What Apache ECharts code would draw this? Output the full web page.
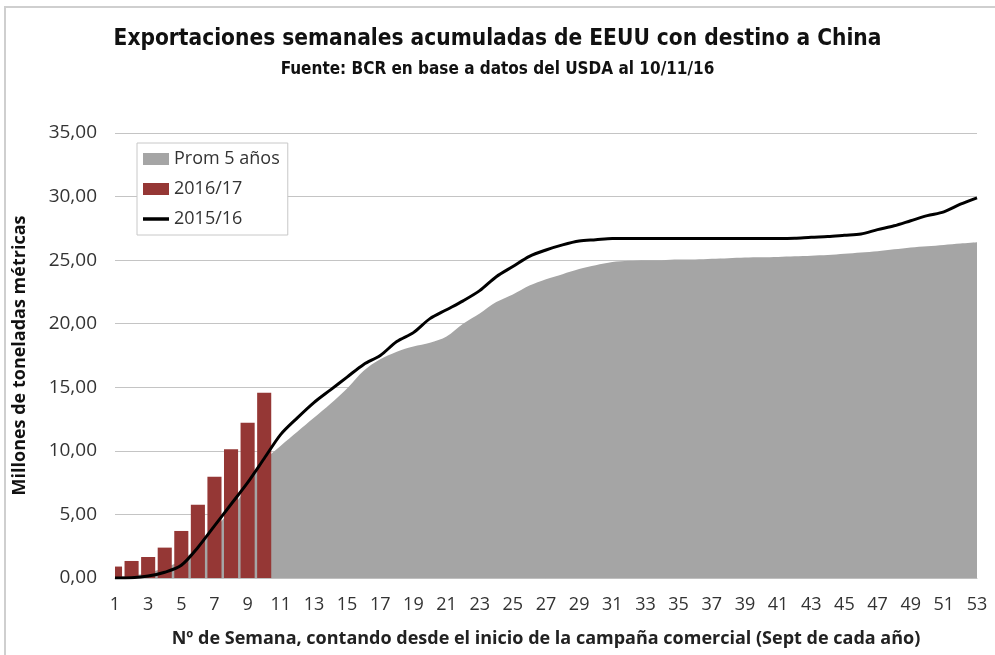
<!DOCTYPE html>
<html>
<head>
<meta charset="utf-8">
<title>Exportaciones semanales acumuladas</title>
<script src="https://cdn.jsdelivr.net/npm/echarts@6/dist/echarts.min.js"></script>
<style>
  html, body { margin: 0; padding: 0; background: #fff; }
  #main { width: 995px; height: 655px; }
</style>
</head>
<body>
<div id="main"></div>
<script>
// semanas 1..53
var semanas = [];
for (var i = 1; i <= 53; i++) { semanas.push(String(i)); }

// Prom 5 años (area gris)
var prom5 = [0.1, 0.2, 0.4, 0.8, 1.4, 2.4, 3.8, 5.4, 7.2, 9.2,
             10.4, 11.5, 12.6, 13.7, 14.9, 16.3, 17.2, 17.8, 18.2, 18.5,
             19.0, 20.0, 20.8, 21.7, 22.3, 23.0, 23.5, 23.9, 24.3, 24.6,
             24.85, 24.95, 25.0, 25.0, 25.05, 25.05, 25.1, 25.15, 25.2, 25.22,
             25.25, 25.3, 25.35, 25.4, 25.5, 25.6, 25.7, 25.85, 26.0, 26.1,
             26.2, 26.3, 26.4];

// 2016/17 (barras)
var campana1617 = [0.9, 1.34, 1.65, 2.39, 3.70, 5.77, 7.97, 10.12, 12.22, 14.58];

// 2015/16 (linea negra)
var campana1516 = [0, 0.02, 0.15, 0.45, 1.0, 2.4, 4.1, 5.8, 7.5, 9.4,
                   11.3, 12.6, 13.8, 14.8, 15.8, 16.8, 17.5, 18.6, 19.3, 20.4,
                   21.1, 21.8, 22.6, 23.7, 24.5, 25.3, 25.8, 26.2, 26.5, 26.6,
                   26.7, 26.7, 26.7, 26.7, 26.7, 26.7, 26.7, 26.7, 26.7, 26.7,
                   26.7, 26.72, 26.8, 26.85, 26.95, 27.05, 27.4, 27.7, 28.1, 28.5,
                   28.8, 29.4, 29.9];

var myChart = echarts.init(document.getElementById('main'));

var fuenteTitulo = "'DejaVu Sans Condensed', 'DejaVu Sans', sans-serif";
var fuenteTexto = "'Open Sans', sans-serif";

// barras como serie custom para poder recortarlas en el borde del grid
// (el eje va "sobre las marcas", la primera barra queda cortada a la mitad)
var datosBarras = campana1617.map(function (v, idx) { return [idx, v]; });

function dibujarBarra(params, api) {
    var idx = api.value(0);
    var tope = api.coord([idx, api.value(1)]);
    var base = api.coord([idx, 0]);
    var ancho = api.size([1, 0])[0] * 0.85;
    var rect = echarts.graphic.clipRectByRect({
        x: tope[0] - ancho / 2,
        y: tope[1],
        width: ancho,
        height: base[1] - tope[1]
    }, {
        x: params.coordSys.x,
        y: params.coordSys.y,
        width: params.coordSys.width,
        height: params.coordSys.height
    });
    return rect && {
        type: 'rect',
        shape: rect,
        style: { fill: '#953735' }
    };
}

var option = {
    backgroundColor: '#fff',
    animation: false,
    // marco exterior
    graphic: [{
        type: 'rect',
        shape: { x: 5, y: 7, width: 1000, height: 700 },
        style: { fill: 'none', stroke: '#cfcfcf', lineWidth: 2 },
        silent: true
    }],
    title: [{
        text: 'Exportaciones semanales acumuladas de EEUU con destino a China',
        left: 'center',
        top: 23,
        textStyle: { fontFamily: fuenteTitulo, fontWeight: 'bold', fontSize: 22.5, color: '#111' }
    }, {
        text: 'Fuente: BCR en base a datos del USDA al 10/11/16',
        left: 'center',
        top: 56,
        textStyle: { fontFamily: fuenteTitulo, fontWeight: 'bold', fontSize: 17, color: '#111' }
    }],
    legend: {
        orient: 'vertical',
        left: 137,
        top: 143,
        padding: [7, 8, 7, 6],
        borderColor: '#c8c8c8',
        borderWidth: 1,
        backgroundColor: '#fff',
        itemWidth: 26,
        itemHeight: 12,
        itemGap: 12,
        textStyle: { fontFamily: fuenteTexto, fontSize: 18, color: '#333' },
        data: [
            { name: 'Prom 5 años', icon: 'rect' },
            { name: '2016/17', icon: 'rect', itemStyle: { color: '#953735' } },
            { name: '2015/16', icon: 'path://M0,0L26,0L26,3.5L0,3.5Z' }
        ]
    },
    grid: { left: 115, right: 18, top: 133, bottom: 77 },
    xAxis: {
        type: 'category',
        data: semanas,
        boundaryGap: false,
        name: 'Nº de Semana, contando desde el inicio de la campaña comercial (Sept de cada año)',
        nameLocation: 'middle',
        nameGap: 52,
        nameTextStyle: { fontFamily: fuenteTexto, fontWeight: 'bold', fontSize: 18, color: '#222' },
        axisLine: { lineStyle: { color: '#bfbfbf' } },
        axisTick: { show: false },
        axisLabel: {
            interval: 1,
            margin: 18,
            fontFamily: fuenteTexto,
            fontSize: 18,
            color: '#333'
        },
        splitLine: { show: false }
    },
    yAxis: {
        type: 'value',
        min: 0,
        max: 35,
        interval: 5,
        name: 'Millones de toneladas métricas',
        nameLocation: 'middle',
        nameGap: 86,
        nameTextStyle: { fontFamily: fuenteTexto, fontWeight: 'bold', fontSize: 18, color: '#111' },
        axisLine: { show: false },
        axisTick: { show: false },
        axisLabel: {
            margin: 18,
            fontFamily: fuenteTexto,
            fontSize: 19,
            color: '#333',
            formatter: function (v) { return v.toFixed(2).replace('.', ','); }
        },
        splitLine: { lineStyle: { color: '#c4c4c4', width: 1 } }
    },
    series: [{
        name: 'Prom 5 años',
        type: 'line',
        data: prom5,
        smooth: 0.3,
        symbol: 'none',
        lineStyle: { width: 0, color: '#a5a5a5' },
        itemStyle: { color: '#a5a5a5' },
        areaStyle: { color: '#a5a5a5', opacity: 1 },
        z: 1
    }, {
        name: '2016/17',
        type: 'custom',
        data: datosBarras,
        encode: { x: 0, y: 1 },
        renderItem: dibujarBarra,
        itemStyle: { color: '#953735' },
        z: 2
    }, {
        name: '2015/16',
        type: 'line',
        data: campana1516,
        smooth: 0.3,
        symbol: 'none',
        lineStyle: { width: 3, color: '#000' },
        itemStyle: { color: '#000' },
        z: 3
    }]
};

myChart.setOption(option);
</script>
</body>
</html>
